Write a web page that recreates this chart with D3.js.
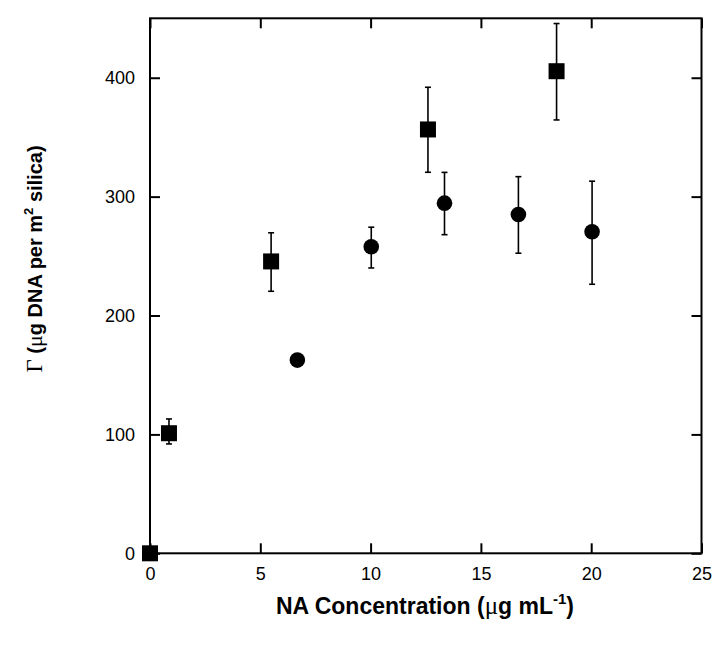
<!DOCTYPE html>
<html>
<head>
<meta charset="utf-8">
<script src="https://cdn.jsdelivr.net/npm/d3@7"></script>
<style>
  html, body { margin: 0; padding: 0; background: #fff; }
  svg { display: block; }
</style>
</head>
<body>
<svg id="chart" width="720" height="656"></svg>
<script>
// Data
const xTicks = [0, 5, 10, 15, 20, 25];
const yTicks = [0, 100, 200, 300, 400];

// Series 1: squares
const sqX   = [0, 0.86, 5.49, 12.6, 18.43];
const sqY   = [0, 101, 245.5, 356.5, 405.5];
const sqLo  = [null, 92, 220.4, 320.5, 364.5];
const sqHi  = [null, 113, 269.6, 392, 445.6];

// Series 2: circles
const ciX   = [6.68, 10.03, 13.35, 16.7, 20.04];
const ciY   = [162.5, 257.8, 294.5, 285, 270.4];
const ciLo  = [null, 240, 268, 252.4, 226.3];
const ciHi  = [null, 274.3, 320.4, 316.8, 313];

const svg = d3.select("#chart");
const L = 150, R = 701.5, T = 18.3, B = 553.3;

const x = d3.scaleLinear().domain([0, 25]).range([L, R]);
const y = d3.scaleLinear().domain([0, 450]).range([B, T]);

// Frame
svg.append("rect")
  .attr("x", L).attr("y", T).attr("width", R - L).attr("height", B - T)
  .attr("fill", "none").attr("stroke", "#000").attr("stroke-width", 2);

function styleAxis(g) {
  g.select(".domain").remove();
  g.selectAll(".tick line").attr("stroke", "#000").attr("stroke-width", 2);
}

svg.append("g").attr("transform", `translate(0,${B})`)
  .call(d3.axisBottom(x).tickValues(xTicks).tickSize(-10).tickPadding(14).tickFormat(d3.format("d")))
  .call(styleAxis);
svg.append("g").attr("transform", `translate(0,${T})`)
  .call(d3.axisTop(x).tickValues(xTicks).tickSize(-10).tickFormat(""))
  .call(styleAxis);
svg.append("g").attr("transform", `translate(${L},0)`)
  .call(d3.axisLeft(y).tickValues(yTicks).tickSize(-10).tickPadding(15).tickFormat(d3.format("d")))
  .call(styleAxis);
svg.append("g").attr("transform", `translate(${R},0)`)
  .call(d3.axisRight(y).tickValues(yTicks).tickSize(-10).tickFormat(""))
  .call(styleAxis);

svg.selectAll(".tick text")
  .attr("font-family", "Liberation Sans, Arial, sans-serif")
  .attr("font-size", 18).attr("fill", "#000");

// Error bars
function errorBars(xs, lo, hi) {
  const data = xs.map((d, i) => ({ x: d, lo: lo[i], hi: hi[i] })).filter(d => d.lo != null);
  const g = svg.append("g").attr("stroke", "#000").attr("stroke-width", 1.6);
  g.selectAll("line.v").data(data).enter().append("line")
    .attr("x1", d => x(d.x)).attr("x2", d => x(d.x))
    .attr("y1", d => y(d.lo)).attr("y2", d => y(d.hi));
  g.selectAll("line.capHi").data(data).enter().append("line")
    .attr("x1", d => x(d.x) - 3).attr("x2", d => x(d.x) + 3)
    .attr("y1", d => y(d.hi)).attr("y2", d => y(d.hi));
  g.selectAll("line.capLo").data(data).enter().append("line")
    .attr("x1", d => x(d.x) - 3).attr("x2", d => x(d.x) + 3)
    .attr("y1", d => y(d.lo)).attr("y2", d => y(d.lo));
}
errorBars(sqX, sqLo, sqHi);
errorBars(ciX, ciLo, ciHi);

// Squares
const S = 16;
svg.append("g").selectAll("rect").data(sqX.map((d, i) => [d, sqY[i]])).enter().append("rect")
  .attr("x", d => x(d[0]) - S / 2).attr("y", d => y(d[1]) - S / 2)
  .attr("width", S).attr("height", S).attr("fill", "#000");

// Circles
svg.append("g").selectAll("circle").data(ciX.map((d, i) => [d, ciY[i]])).enter().append("circle")
  .attr("cx", d => x(d[0])).attr("cy", d => y(d[1])).attr("r", 7.8).attr("fill", "#000");

// X title
const xt = svg.append("text")
  .attr("x", 425).attr("y", 614)
  .attr("text-anchor", "middle")
  .attr("font-family", "Liberation Sans, Arial, sans-serif")
  .attr("font-weight", "bold").attr("font-size", 23).attr("fill", "#000");
xt.append("tspan").text("NA Concentration (");
xt.append("tspan").attr("font-family", "Liberation Serif, Times New Roman, serif").attr("font-weight", "normal").attr("font-size", 25).text("μ");
xt.append("tspan").text("g mL");
xt.append("tspan").attr("font-size", 15).attr("dy", -10).text("-1");
xt.append("tspan").attr("dy", 10).text(")");

// Y title
const yt = svg.append("text")
  .attr("transform", `translate(42,259) rotate(-90)`)
  .attr("text-anchor", "middle")
  .attr("font-family", "Liberation Sans, Arial, sans-serif")
  .attr("font-weight", "bold").attr("font-size", 20).attr("fill", "#000");
yt.append("tspan").attr("font-family", "Liberation Serif, Times New Roman, serif").attr("font-weight", "normal").attr("font-size", 23).text("Γ");
yt.append("tspan").text(" (");
yt.append("tspan").attr("font-family", "Liberation Serif, Times New Roman, serif").attr("font-weight", "normal").attr("font-size", 22).text("μ");
yt.append("tspan").text("g DNA per m");
yt.append("tspan").attr("font-size", 13).attr("dy", -9).text("2");
yt.append("tspan").attr("dy", 9).text(" silica)");
</script>
</body>
</html>
